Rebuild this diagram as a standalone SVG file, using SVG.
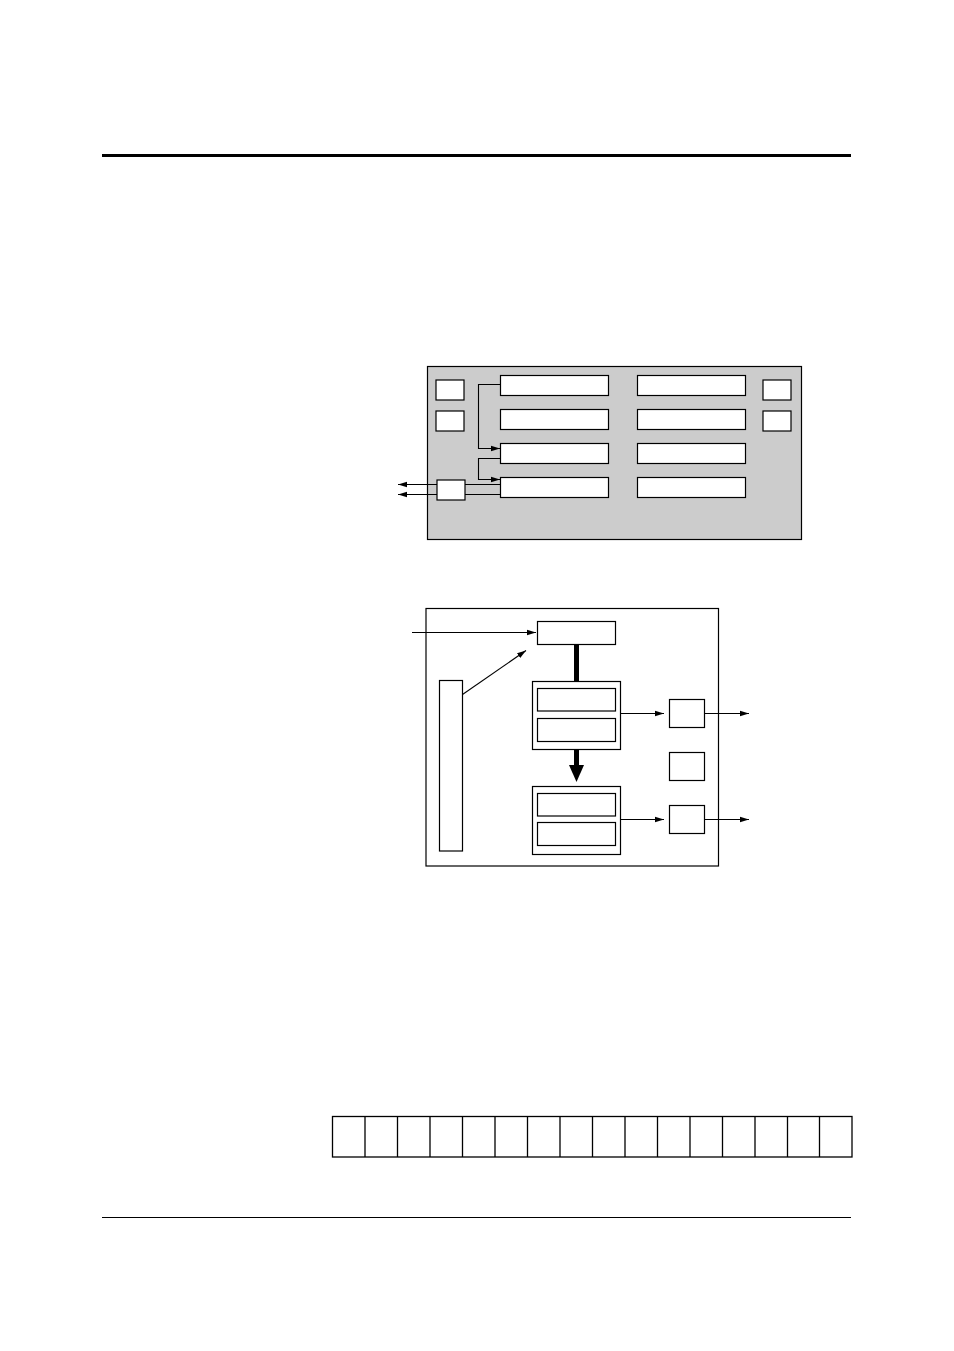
<svg xmlns="http://www.w3.org/2000/svg" width="954" height="1351" viewBox="0 0 954 1351">
<style>
.box{fill:#fff;stroke:#000;stroke-width:1.2}
.panel{fill:#cccccc;stroke:#000;stroke-width:1.2}
.frame{fill:#fff;stroke:#000;stroke-width:1.2}
.ln{fill:none;stroke:#000;stroke-width:1.1}
.cell{fill:#fff;stroke:#000;stroke-width:1.3}
</style>
<defs>
<marker id="ah" markerUnits="userSpaceOnUse" markerWidth="10" markerHeight="8" refX="9" refY="4" orient="auto">
<path d="M0,1.2 L9,4 L0,6.8 Z" fill="#000"/>
</marker>
</defs>
<rect width="954" height="1351" fill="#fff"/>
<g id="rules">
<line x1="102" y1="155.5" x2="851" y2="155.5" stroke="#000" stroke-width="3"/>
<line x1="102" y1="1217.5" x2="851" y2="1217.5" stroke="#000" stroke-width="1"/>
</g>
<g id="top-diagram">
<rect id="top-panel" class="panel" x="427.5" y="366.5" width="374" height="173"/>
<rect id="tl1" class="box" x="436" y="380" width="28" height="20"/>
<rect id="tl2" class="box" x="436" y="411" width="28" height="20"/>
<rect id="tr1" class="box" x="763" y="380" width="28" height="20"/>
<rect id="tr2" class="box" x="763" y="411" width="28" height="20"/>
<rect id="a1" class="box" x="500.5" y="375.5" width="108" height="20"/>
<rect id="a2" class="box" x="500.5" y="409.5" width="108" height="20"/>
<rect id="a3" class="box" x="500.5" y="443.5" width="108" height="20"/>
<rect id="a4" class="box" x="500.5" y="477.5" width="108" height="20"/>
<rect id="b1" class="box" x="637.5" y="375.5" width="108" height="20"/>
<rect id="b2" class="box" x="637.5" y="409.5" width="108" height="20"/>
<rect id="b3" class="box" x="637.5" y="443.5" width="108" height="20"/>
<rect id="b4" class="box" x="637.5" y="477.5" width="108" height="20"/>
<rect id="io" class="box" x="437" y="480" width="28" height="20"/>
</g>
<g id="top-connectors">
<polyline class="ln" points="500,384.5 478.5,384.5 478.5,448.5 500,448.5" marker-end="url(#ah)"/>
<polyline class="ln" points="500,458.5 478.5,458.5 478.5,479.5 500,479.5" marker-end="url(#ah)"/>
<line class="ln" x1="465" y1="484.5" x2="500" y2="484.5"/>
<line class="ln" x1="465" y1="494.5" x2="500" y2="494.5"/>
<line class="ln" x1="437" y1="484.5" x2="398" y2="484.5" marker-end="url(#ah)"/>
<line class="ln" x1="437" y1="494.5" x2="398" y2="494.5" marker-end="url(#ah)"/>
</g>
<g id="bottom-diagram">
<rect id="bot-frame" class="frame" x="426" y="608.5" width="292.5" height="257.5"/>
<rect id="src" class="box" x="537.5" y="621.5" width="78" height="23"/>
<rect id="bar" class="box" x="439.5" y="680.5" width="23" height="170.5"/>
<rect id="g1" class="box" x="532.5" y="681.5" width="88" height="68"/>
<rect id="g1a" class="box" x="537.5" y="688.5" width="78" height="22.5"/>
<rect id="g1b" class="box" x="537.5" y="718.5" width="78" height="23"/>
<rect id="g2" class="box" x="532.5" y="786.5" width="88" height="68"/>
<rect id="g2a" class="box" x="537.5" y="793.5" width="78" height="22.5"/>
<rect id="g2b" class="box" x="537.5" y="822.5" width="78" height="23"/>
<rect id="r1" class="box" x="669.5" y="699.5" width="35" height="28"/>
<rect id="r2" class="box" x="669.5" y="752.5" width="35" height="28"/>
<rect id="r3" class="box" x="669.5" y="805.5" width="35" height="28"/>
</g>
<g id="bottom-connectors">
<line class="ln" x1="412" y1="632.5" x2="536" y2="632.5" marker-end="url(#ah)"/>
<line class="ln" x1="462.5" y1="694.5" x2="526" y2="650.5" marker-end="url(#ah)"/>
<rect x="574" y="644.5" width="5" height="36.5" fill="#000"/>
<rect x="574" y="749.5" width="5" height="16" fill="#000"/>
<path d="M569,765 L584,765 L576.5,782 Z" fill="#000"/>
<line class="ln" x1="620.5" y1="713.5" x2="664" y2="713.5" marker-end="url(#ah)"/>
<line class="ln" x1="704.5" y1="713.5" x2="749" y2="713.5" marker-end="url(#ah)"/>
<line class="ln" x1="620.5" y1="819.5" x2="664" y2="819.5" marker-end="url(#ah)"/>
<line class="ln" x1="704.5" y1="819.5" x2="749" y2="819.5" marker-end="url(#ah)"/>
</g>
<g id="register">
<rect class="cell" x="332.5" y="1116.5" width="519.5" height="40.5"/>
<path class="cell" fill="none" d="M365,1116.5V1157 M397.5,1116.5V1157 M430,1116.5V1157 M462.5,1116.5V1157 M495,1116.5V1157 M527.5,1116.5V1157 M560,1116.5V1157 M592.5,1116.5V1157 M625,1116.5V1157 M657.5,1116.5V1157 M690,1116.5V1157 M722.5,1116.5V1157 M755,1116.5V1157 M787.5,1116.5V1157 M819.5,1116.5V1157"/>
</g>
</svg>
